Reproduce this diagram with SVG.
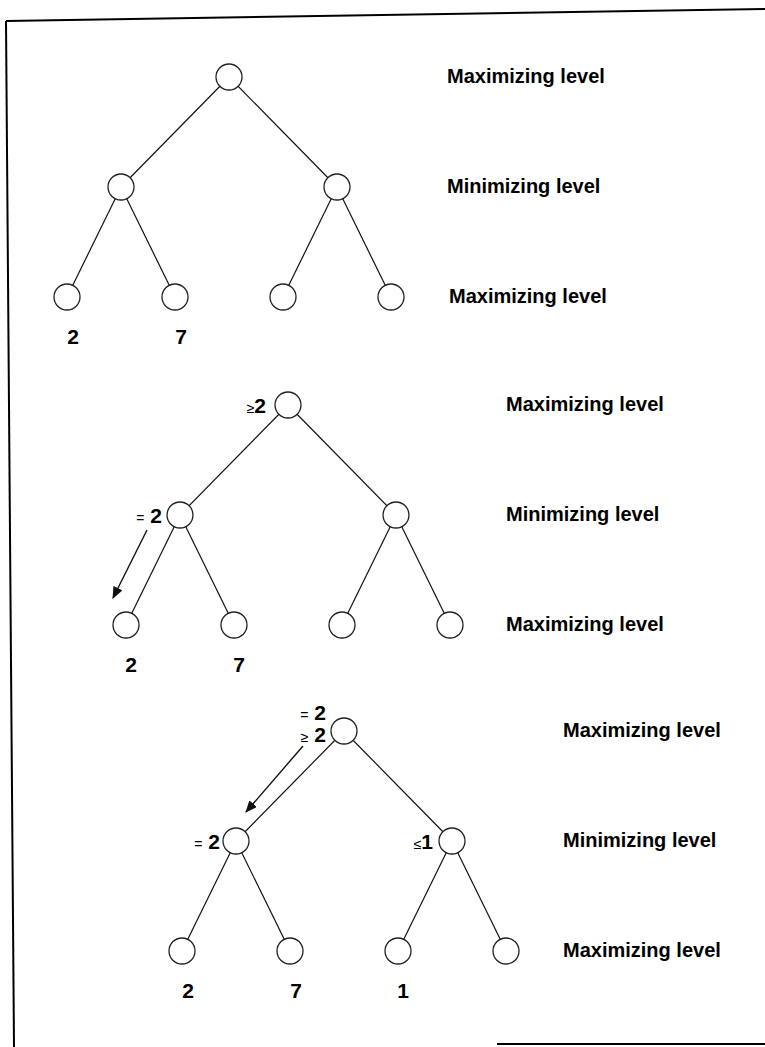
<svg xmlns="http://www.w3.org/2000/svg" width="765" height="1047" viewBox="0 0 765 1047">
  <style>
    .frame { stroke: #000; stroke-width: 2; fill: none; }
    .edge { stroke: #111; stroke-width: 1.2; fill: none; }
    .arrow { stroke: #111; stroke-width: 1.4; fill: none; }
    .node { fill: #fff; stroke: #222; stroke-width: 1.3; }
    .lvl { font-family: "Liberation Sans", Arial, sans-serif; font-size: 20px; font-weight: bold; fill: #000; }
    .val { font-family: "Liberation Sans", Arial, sans-serif; font-size: 21px; font-weight: bold; fill: #000; text-anchor: middle; }
    .ann { font-family: "Liberation Sans", Arial, sans-serif; font-size: 21px; font-weight: bold; fill: #000; text-anchor: end; }
    .sym { font-size: 14px; font-weight: normal; }
  </style>
  <defs>
    <marker id="head" markerWidth="12" markerHeight="10" refX="11" refY="5" orient="auto" markerUnits="userSpaceOnUse">
      <path d="M0,0 L12,5 L0,10 Z" fill="#111"/>
    </marker>
  </defs>

  <!-- page frame -->
  <g id="frame">
    <line class="frame" x1="6" y1="21" x2="765" y2="9"/>
    <line class="frame" x1="6" y1="21" x2="14" y2="1047"/>
    <line class="frame" x1="497" y1="1044" x2="765" y2="1044"/>
  </g>

  <!-- connectors -->
  <g id="connectors">
    <!-- tree 1 -->
    <line class="edge" x1="229" y1="77" x2="121" y2="187"/>
    <line class="edge" x1="229" y1="77" x2="337" y2="187"/>
    <line class="edge" x1="121" y1="187" x2="67" y2="297"/>
    <line class="edge" x1="121" y1="187" x2="175" y2="297"/>
    <line class="edge" x1="337" y1="187" x2="283" y2="297"/>
    <line class="edge" x1="337" y1="187" x2="391" y2="297"/>
    <!-- tree 2 -->
    <line class="edge" x1="288" y1="405" x2="180" y2="515"/>
    <line class="edge" x1="288" y1="405" x2="396" y2="515"/>
    <line class="edge" x1="180" y1="515" x2="126" y2="625"/>
    <line class="edge" x1="180" y1="515" x2="234" y2="625"/>
    <line class="edge" x1="396" y1="515" x2="342" y2="625"/>
    <line class="edge" x1="396" y1="515" x2="450" y2="625"/>
    <line class="arrow" x1="147" y1="530" x2="113" y2="598" marker-end="url(#head)"/>
    <!-- tree 3 -->
    <line class="edge" x1="344" y1="731" x2="236" y2="841"/>
    <line class="edge" x1="344" y1="731" x2="452" y2="841"/>
    <line class="edge" x1="236" y1="841" x2="182" y2="951"/>
    <line class="edge" x1="236" y1="841" x2="290" y2="951"/>
    <line class="edge" x1="452" y1="841" x2="398" y2="951"/>
    <line class="edge" x1="452" y1="841" x2="506" y2="951"/>
    <line class="arrow" x1="303" y1="746" x2="246" y2="812" marker-end="url(#head)"/>
  </g>

  <!-- tree 1 nodes -->
  <g id="t1-root"><circle class="node" cx="229" cy="77" r="13"/></g>
  <g id="t1-min-a"><circle class="node" cx="121" cy="187" r="13"/></g>
  <g id="t1-min-b"><circle class="node" cx="337" cy="187" r="13"/></g>
  <g id="t1-leaf-a"><circle class="node" cx="67" cy="297" r="13"/><text class="val" x="73" y="344">2</text></g>
  <g id="t1-leaf-b"><circle class="node" cx="175" cy="297" r="13"/><text class="val" x="181" y="344">7</text></g>
  <g id="t1-leaf-c"><circle class="node" cx="283" cy="297" r="13"/></g>
  <g id="t1-leaf-d"><circle class="node" cx="391" cy="297" r="13"/></g>

  <!-- tree 2 nodes -->
  <g id="t2-root"><circle class="node" cx="288" cy="405" r="13"/><text class="ann" x="266" y="413"><tspan class="sym">≥</tspan>2</text></g>
  <g id="t2-min-a"><circle class="node" cx="180" cy="515" r="13"/><text class="ann" x="162" y="523"><tspan class="sym">=</tspan> 2</text></g>
  <g id="t2-min-b"><circle class="node" cx="396" cy="515" r="13"/></g>
  <g id="t2-leaf-a"><circle class="node" cx="126" cy="625" r="13"/><text class="val" x="131" y="672">2</text></g>
  <g id="t2-leaf-b"><circle class="node" cx="234" cy="625" r="13"/><text class="val" x="239" y="672">7</text></g>
  <g id="t2-leaf-c"><circle class="node" cx="342" cy="625" r="13"/></g>
  <g id="t2-leaf-d"><circle class="node" cx="450" cy="625" r="13"/></g>

  <!-- tree 3 nodes -->
  <g id="t3-root"><circle class="node" cx="344" cy="731" r="13"/>
    <text class="ann" x="326" y="720"><tspan class="sym">=</tspan> 2</text>
    <text class="ann" x="326" y="742"><tspan class="sym">≥</tspan> 2</text>
  </g>
  <g id="t3-min-a"><circle class="node" cx="236" cy="841" r="13"/><text class="ann" x="220" y="849"><tspan class="sym">=</tspan> 2</text></g>
  <g id="t3-min-b"><circle class="node" cx="452" cy="841" r="13"/><text class="ann" x="433" y="849"><tspan class="sym">≤</tspan>1</text></g>
  <g id="t3-leaf-a"><circle class="node" cx="182" cy="951" r="13"/><text class="val" x="188" y="998">2</text></g>
  <g id="t3-leaf-b"><circle class="node" cx="290" cy="951" r="13"/><text class="val" x="296" y="998">7</text></g>
  <g id="t3-leaf-c"><circle class="node" cx="398" cy="951" r="13"/><text class="val" x="403" y="998">1</text></g>
  <g id="t3-leaf-d"><circle class="node" cx="506" cy="951" r="13"/></g>

  <!-- level labels -->
  <g id="labels">
    <text class="lvl" x="447" y="83">Maximizing level</text>
    <text class="lvl" x="447" y="193">Minimizing level</text>
    <text class="lvl" x="449" y="303">Maximizing level</text>
    <text class="lvl" x="506" y="411">Maximizing level</text>
    <text class="lvl" x="506" y="521">Minimizing level</text>
    <text class="lvl" x="506" y="631">Maximizing level</text>
    <text class="lvl" x="563" y="737">Maximizing level</text>
    <text class="lvl" x="563" y="847">Minimizing level</text>
    <text class="lvl" x="563" y="957">Maximizing level</text>
  </g>
</svg>
